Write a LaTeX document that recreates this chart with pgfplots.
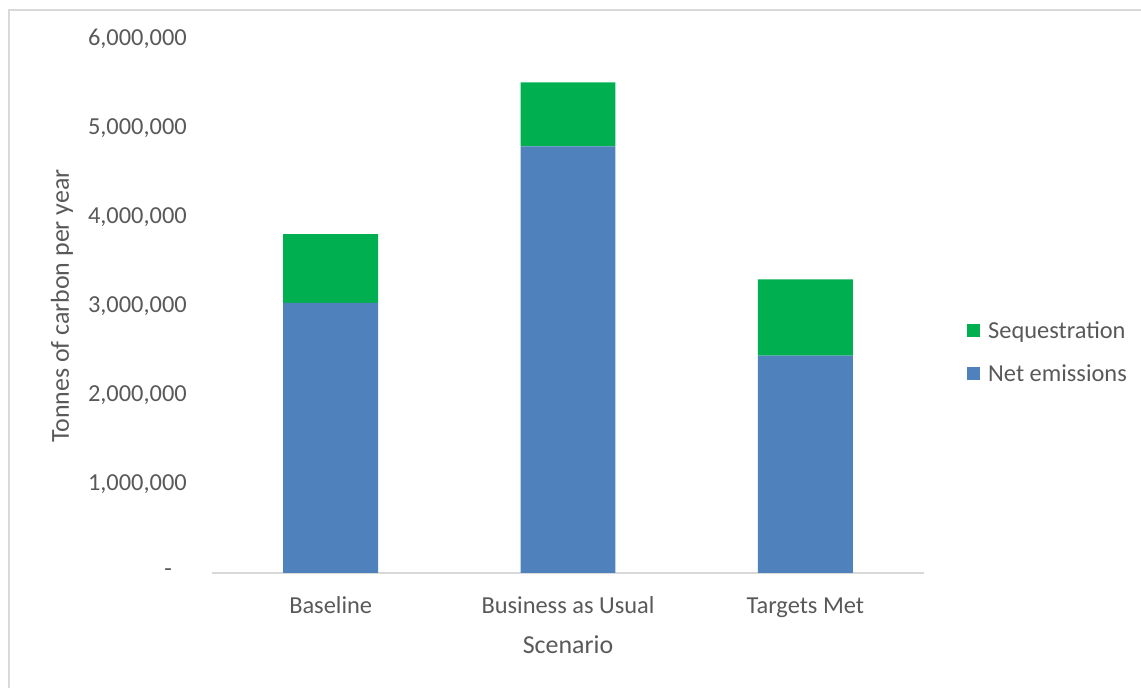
\documentclass[border=0pt]{standalone}
\usepackage{pgfplots}
\pgfplotsset{compat=1.18}
\usepackage{fontspec}
\setmainfont{Carlito}
\definecolor{netblue}{HTML}{4F81BD}
\definecolor{seqgreen}{HTML}{00B050}
\definecolor{txt}{HTML}{595959}
\definecolor{axisgray}{HTML}{D9D9D9}
\definecolor{framegray}{HTML}{D9D9D9}
\begin{document}
\begin{tikzpicture}
\useasboundingbox (0bp,0bp) rectangle (1141bp,688bp);
\draw[framegray, line width=2bp] (8.5bp,-10bp) -- (8.5bp,678bp) -- (1150bp,678bp);
\begin{axis}[
  at={(212bp,115bp)}, anchor=south west,
  scale only axis, width=712bp, height=533.7bp,
  ybar stacked, bar width=0.40,
  xmin=-0.5, xmax=2.5, ymin=0, ymax=6000000,
  scaled y ticks=false,
  xtick={0,1,2}, xticklabels={Baseline,Business as Usual,Targets Met},
  ytick={0,1000000,2000000,3000000,4000000,5000000,6000000},
  yticklabels={{\hbox{-\kern15bp}},{1,000,000},{2,000,000},{3,000,000},{4,000,000},{5,000,000},{6,000,000}},
  axis x line*=bottom, axis y line*=left,
  x axis line style={axisgray, line width=1.5bp},
  y axis line style={draw=none},
  tick style={draw=none},
  yticklabel style={font=\fontsize{24.5}{29}\selectfont, text=txt, inner sep=0pt, anchor=east, xshift=-25bp},
  xticklabel style={font=\fontsize{24.5}{29}\selectfont, text=txt, inner sep=0pt, anchor=base, yshift=-40bp},
  xlabel={Scenario}, ylabel={Tonnes of carbon per year},
  label style={font=\fontsize{26}{30}\selectfont, text=txt},
  xlabel style={at={(axis description cs:0.5,-0.135)}, anchor=center},
  ylabel style={at={(axis description cs:-0.2107,0.5)}, anchor=center},
  reverse legend,
  legend cell align=left,
  legend style={at={(rel axis cs:1.0604,0.414)}, anchor=west, draw=none, fill=none,
    inner sep=0pt, font=\fontsize{24.5}{29}\selectfont, text=txt, row sep=21bp,
    /tikz/every odd column/.append style={column sep=6bp}},
  legend image code/.code={\fill[#1, draw=none] (0bp,-6.5bp) rectangle (13bp,6.5bp);},
]
\addplot[fill=netblue, draw=none] coordinates {(0,3037000) (1,4796000) (2,2445000)};
\addlegendentry{Net emissions}
\addplot[fill=seqgreen, draw=none] coordinates {(0,773000) (1,720000) (2,855000)};
\addlegendentry{Sequestration}
\end{axis}
\end{tikzpicture}
\end{document}
